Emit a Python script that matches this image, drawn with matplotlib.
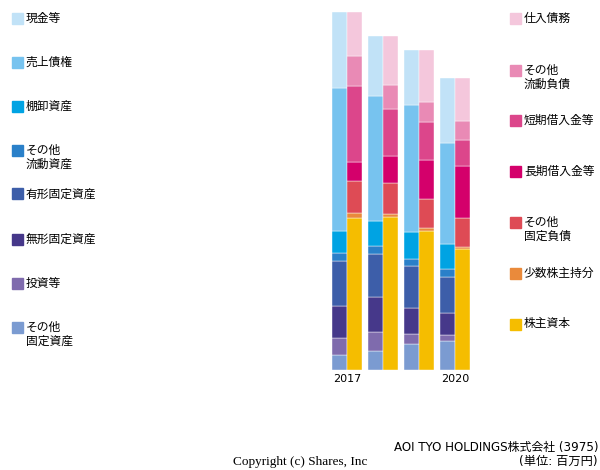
import numpy as np
import matplotlib.pyplot as plt

# --------- Data (arbitrary units) ---------

YEARS = ['2017', '2018', '2019', '2020']
YEAR_LABELS = ['2017', '', '', '2020']

ASSET_NAMES = ['その他\n固定資産', '投資等', '無形固定資産', '有形固定資産',
               'その他\n流動資産', '棚卸資産', '売上債権', '現金等']
ASSETS = [
    [15.0, 19.0, 25.7, 29.0],    # その他固定資産
    [17.0, 19.0, 10.3, 6.0],     # 投資等
    [31.7, 34.7, 25.7, 21.7],    # 無形固定資産
    [45.7, 43.0, 42.3, 36.7],    # 有形固定資産
    [8.0, 8.0, 6.7, 7.3],        # その他流動資産
    [21.7, 25.3, 27.0, 25.3],    # 棚卸資産
    [143.3, 125.0, 127.3, 100.7],  # 売上債権
    [75.7, 60.0, 55.0, 65.3],    # 現金等
]
ASSET_COLORS = ['#7b9bd1', '#7f6bad', '#46388a', '#3d5ea9',
                '#2a80c9', '#00a3e3', '#77c3ef', '#c1e2f7']

LIAB_NAMES = ['株主資本', '少数株主持分', 'その他\n固定負債', '長期借入金等',
              '短期借入金等', 'その他\n流動負債', '仕入債務']
LIABS = [
    [152.3, 153.0, 139.3, 120.7],  # 株主資本
    [5.0, 3.0, 2.7, 2.0],          # 少数株主持分
    [31.7, 31.0, 29.0, 29.0],      # その他固定負債
    [19.0, 27.0, 39.3, 52.0],      # 長期借入金等
    [76.3, 47.3, 37.3, 26.3],      # 短期借入金等
    [30.0, 24.0, 20.3, 19.0],      # その他流動負債
    [43.7, 48.7, 52.0, 43.0],      # 仕入債務
]
LIAB_COLORS = ['#f5bd00', '#ea8a3b', '#de4b55', '#d4006b',
               '#dc468b', '#e98ab5', '#f4c7dc']

# --------- Figure ---------

plt.rcParams['font.family'] = ['Noto Sans CJK JP', 'DejaVu Sans']

fig = plt.figure(figsize=(6, 4.7), dpi=100)
W, H = 600, 470
ax = fig.add_axes([332 / W, (H - 370) / H, 138 / W, 358 / H])

w = 15 / 36
x = np.arange(len(YEARS))

bottom = np.zeros(len(YEARS))
for vals, col in zip(ASSETS, ASSET_COLORS):
    ax.bar(x, vals, width=w, bottom=bottom, color=col, align='edge',
           edgecolor='white', linewidth=0.3)
    bottom += np.array(vals)

bottom = np.zeros(len(YEARS))
for vals, col in zip(LIABS, LIAB_COLORS):
    ax.bar(x + w, vals, width=w, bottom=bottom, color=col, align='edge',
           edgecolor='white', linewidth=0.3)
    bottom += np.array(vals)

ax.set_xlim(0, 3 + 2 * w)
ax.set_ylim(0, 358)
ax.set_xticks(x + w)
ax.set_xticklabels(YEAR_LABELS, family='DejaVu Sans', fontsize=8)
ax.tick_params(length=0, pad=3)
ax.set_yticks([])
for s in ax.spines.values():
    s.set_visible(False)

# --------- Legends (drawn by hand) ---------

def legend_item(px, py, color, label):
    fig.patches.append(plt.Rectangle((px / W, 1 - (py + 5.5) / H), 11 / W, 11 / H,
                                     transform=fig.transFigure, color=color))
    fig.text((px + 14) / W, 1 - (py - 6.5) / H, label, fontsize=8.5, va='top',
             ha='left', linespacing=1.1)

left_y = [327, 283, 239, 194, 150, 106, 62, 18]
for yy, name, col in zip(left_y, ASSET_NAMES, ASSET_COLORS):
    legend_item(12, yy, col, name)

right_y = [324, 273, 222, 171, 120, 70, 18]
for yy, name, col in zip(right_y, LIAB_NAMES, LIAB_COLORS):
    legend_item(510, yy, col, name)

# --------- Footer ---------

fig.text(233 / W, 1 - 462 / H, 'Copyright (c) Shares, Inc', family='Liberation Serif',
         fontsize=9.5, ha='left', va='center')
fig.text(598 / W, 1 - 448 / H, 'AOI TYO HOLDINGS株式会社 (3975)',
         family=['DejaVu Sans', 'Noto Sans CJK JP'], fontsize=8.6, ha='right', va='center')
fig.text(598 / W, 1 - 461 / H, '(単位: 百万円)',
         family=['DejaVu Sans', 'Noto Sans CJK JP'], fontsize=8.8, ha='right', va='center')

plt.savefig('out.png', dpi=100)
